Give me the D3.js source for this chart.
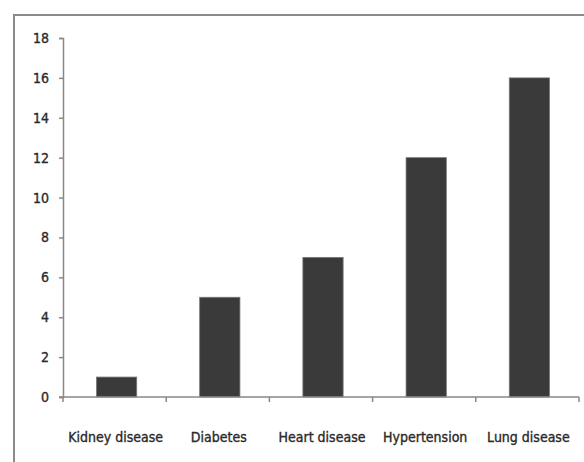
<!DOCTYPE html>
<html lang="en">
<head>
    <meta charset="utf8">
    <title>Disease bar chart</title>
    <script src="https://d3js.org/d3.v7.min.js"></script>
    <style>
        body { margin: 0; background: #fff; }
        svg { display: block; }
        text { font-family: "DejaVu Sans Condensed", "Open Sans", sans-serif; fill: #2a2a2a; stroke: #2a2a2a; stroke-width: 0.35; }
    </style>
</head>
<body>
    <svg id="chart" width="584" height="462"></svg>
    <script>
        const categories = ["Kidney disease", "Diabetes", "Heart disease", "Hypertension", "Lung disease"];
        const values = [1, 5, 7, 12, 16];
        const yTicks = [0, 2, 4, 6, 8, 10, 12, 14, 16, 18];

        const svg = d3.select("#chart");

        // outer chart frame (runs off the right and bottom edges)
        svg.append("path")
           .attr("d", "M14,600 L14,15 L700,15")
           .attr("fill", "none")
           .attr("stroke", "#8a8a8a")
           .attr("stroke-width", 2);

        const x = d3.scaleBand()
                    .domain(categories)
                    .range([63, 579])
                    .paddingInner(0.61)
                    .paddingOuter(0.305);

        const y = d3.scaleLinear()
                    .domain([0, 18])
                    .range([397, 38]);

        svg.selectAll("rect.bar")
           .data(values)
           .enter()
           .append("rect")
           .attr("class", "bar")
           .attr("x", (d, i) => x(categories[i]) + 2)
           .attr("y", d => y(d))
           .attr("width", x.bandwidth())
           .attr("height", d => y(0) - y(d))
           .attr("fill", "#3a3a3a")
           .attr("stroke", "#777")
           .attr("stroke-width", 0.8);

        // y axis
        const yAxis = svg.append("g")
           .attr("transform", "translate(63,0)")
           .call(d3.axisLeft(y).tickValues(yTicks).tickSize(4).tickPadding(10));
        yAxis.attr("font-family", null);
        yAxis.select(".domain").attr("stroke", "#888").attr("stroke-width", 1.5);
        yAxis.selectAll(".tick line").attr("stroke", "#888").attr("stroke-width", 1.5);
        yAxis.selectAll("text").attr("font-size", 14).attr("fill", null);

        // x axis with ticks at category boundaries
        svg.append("line")
           .attr("x1", 59).attr("x2", 579)
           .attr("y1", y(0)).attr("y2", y(0))
           .attr("stroke", "#888").attr("stroke-width", 1.5);

        const step = x.step();
        const bounds = d3.range(categories.length + 1).map(i => 63 + i * step);
        svg.selectAll("line.xtick")
           .data(bounds)
           .enter()
           .append("line")
           .attr("class", "xtick")
           .attr("x1", d => d).attr("x2", d => d)
           .attr("y1", y(0)).attr("y2", y(0) + 5)
           .attr("stroke", "#888").attr("stroke-width", 1.5);

        svg.selectAll("text.xlab")
           .data(categories)
           .enter()
           .append("text")
           .attr("class", "xlab")
           .attr("x", (d, i) => 63 + (i + 0.5) * step + 1)
           .attr("y", 442)
           .attr("text-anchor", "middle")
           .attr("font-size", 14)
           .text(d => d);
    </script>
</body>
</html>
